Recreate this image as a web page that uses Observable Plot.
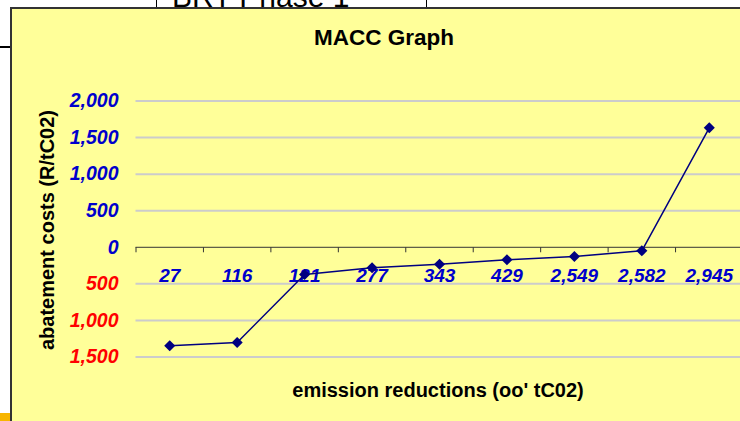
<!DOCTYPE html>
<html>
<head>
<meta charset="utf-8">
<script src="https://cdn.jsdelivr.net/npm/d3@7"></script>
<script src="https://cdn.jsdelivr.net/npm/@observablehq/plot@0.6"></script>
<style>
  html, body { margin: 0; padding: 0; background: #fff; }
  body { width: 740px; height: 421px; position: relative; overflow: hidden; font-family: Arial, "Liberation Sans", sans-serif; }
  .abs { position: absolute; }
  #brt { left: 156px; top: -30px; width: 269px; height: 40px; border: 1.5px solid #000; background: #fff; }
  #brtText { left: 172px; top: -18px; font-size: 30px; line-height: 30px; color: #000; white-space: nowrap; }
  #leftLine { left: 0; top: 46px; width: 11px; height: 2px; background: #000; }
  #orange { left: 0; top: 413px; width: 10px; height: 8px; background: #F7B500; }
  #box { left: 10px; top: 7px; width: 740px; height: 420px; background: #FFFF99; border-left: 2px solid #333; border-top: 2px solid #333; }
  #chart { left: 0; top: 0; }
  .ttl { font-weight: bold; color: #000; white-space: nowrap; }
  #title { left: 384px; top: 27px; font-size: 22.5px; line-height: 22px; transform: translateX(-50%); }
  #xtitle { left: 438px; top: 380px; font-size: 20px; line-height: 20px; transform: translateX(-50%); }
  #ytitle { left: 47px; top: 230px; font-size: 20px; line-height: 20px; transform: translate(-50%, -50%) rotate(-90deg); }
</style>
</head>
<body>
<div id="brt" class="abs"></div>
<div id="brtText" class="abs">BRT Phase 1</div>
<div id="leftLine" class="abs"></div>
<div id="orange" class="abs"></div>
<div id="box" class="abs"></div>
<div id="chart" class="abs"></div>
<div id="title" class="abs ttl">MACC Graph</div>
<div id="ytitle" class="abs ttl">abatement costs (R/tC02)</div>
<div id="xtitle" class="abs ttl">emission reductions (oo' tC02)</div>
<script>
// Data
const categories = ["27", "116", "121", "277", "343", "429", "2,549", "2,582", "2,945"];
const costs = [-1347, -1302, -372, -280, -231, -171, -126, -48, 1634];
const yTicks = [2000, 1500, 1000, 500, 0, -500, -1000, -1500];

const data = categories.map((c, i) => ({i, label: c, cost: costs[i]}));
const edges = d3.range(categories.length + 1).map(k => k - 0.5);
const gridValues = yTicks.filter(v => v !== 0);

const BLUE = "#0000CC";
const RED = "#FF0000";
const FONT = "Arial, 'Liberation Sans', sans-serif";
const fmt = d3.format(",");

const tickSymbol = {
  draw(context) { context.moveTo(0, 0); context.lineTo(0, 5); }
};

const chart = Plot.plot({
  width: 740,
  height: 421,
  marginLeft: 135.5,
  marginRight: 0,
  marginTop: 100.5,
  marginBottom: 64.5,
  x: {domain: [-0.5, categories.length - 0.5], range: [135.5, 742.5], axis: null},
  y: {domain: [-1500, 2000], range: [356.5, 100.5], axis: null},
  style: {background: "none", overflow: "hidden", fontFamily: FONT},
  marks: [
    Plot.ruleY(gridValues, {stroke: "#cccccc", strokeWidth: 2}),
    Plot.ruleY([0], {stroke: "#333", strokeWidth: 1}),
    Plot.dot(edges, {x: d => d, y: () => 0, symbol: tickSymbol, r: 1, fill: "none", stroke: "#333", strokeWidth: 1}),
    Plot.text(data, {
      x: "i", y: () => 0, dy: 29, text: "label",
      fill: BLUE, fontSize: 19, fontWeight: "bold", fontStyle: "italic", fontFamily: FONT,
      textAnchor: "middle", lineAnchor: "middle"
    }),
    Plot.text(yTicks, {
      y: d => d, frameAnchor: "left", dx: -17.5, textAnchor: "end", lineAnchor: "middle",
      text: d => fmt(Math.abs(d)),
      fill: d => d < 0 ? RED : BLUE,
      fontSize: 19.5, fontWeight: "bold", fontStyle: "italic", fontFamily: FONT
    }),
    Plot.line(data, {x: "i", y: "cost", stroke: "#000080", strokeWidth: 1.5}),
    Plot.dot(data, {x: "i", y: "cost", symbol: "diamond2", r: 5, fill: "#000080", stroke: "none"})
  ]
});
document.getElementById("chart").appendChild(chart);
</script>
</body>
</html>
